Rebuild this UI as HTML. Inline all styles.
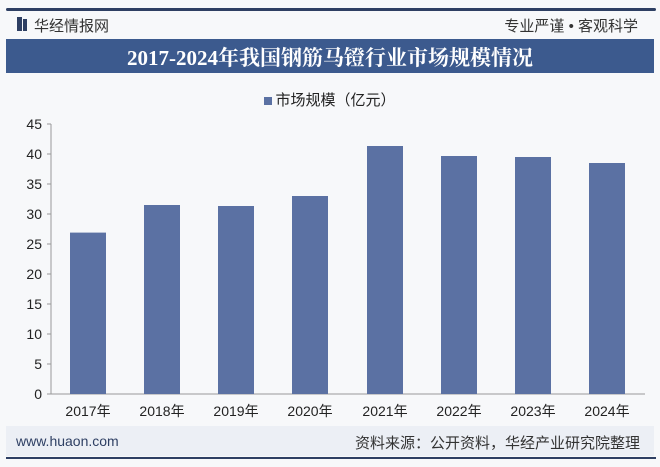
<!DOCTYPE html><html><head><meta charset="utf-8"><style>
body{margin:0;width:660px;height:467px;background:#f7f8fa;position:relative;overflow:hidden;font-family:"Liberation Sans","Noto Sans CJK SC",sans-serif}
.a{position:absolute}
</style></head><body>
<div class="a" style="left:6px;top:8px;width:650px;height:3px;background:#2e3f63;border-radius:2px"></div>
<div class="a" style="left:17px;top:17px;width:5px;height:14px;background:#2e3f63"></div>
<div class="a" style="left:23px;top:19px;width:4px;height:12px;background:#2e3f63"></div>
<div class="a" style="left:34px;top:15px;font-size:15px;color:#333">华经情报网</div>
<div class="a" style="right:22px;top:15px;font-size:15px;color:#333">专业严谨 • 客观科学</div>
<div class="a" style="left:6px;top:39px;width:648px;height:34px;background:#3c5a8e"></div>
<div class="a" style="left:0;width:660px;top:42px;text-align:center;font-size:21px;font-weight:bold;color:#fff;font-family:'Liberation Serif','Noto Serif CJK SC',serif">2017-2024年我国钢筋马镫行业市场规模情况</div>
<div class="a" style="left:0;width:660px;top:89px;text-align:center;font-size:15px;color:#222"><span style="display:inline-block;width:8px;height:8px;background:#5b71a3;margin-right:3px"></span>市场规模（亿元）</div>
<svg class="a" style="left:0;top:0" width="660" height="467">
<g font-family="Liberation Sans" font-size="14" fill="#222" text-anchor="end">
<text x="42" y="129">45</text><text x="42" y="159">40</text><text x="42" y="189">35</text><text x="42" y="219">30</text><text x="42" y="249">25</text><text x="42" y="279">20</text><text x="42" y="309">15</text><text x="42" y="339">10</text><text x="42" y="369">5</text><text x="42" y="399">0</text>
</g>
<g stroke="#999" stroke-width="1">
<line x1="51" y1="124" x2="51" y2="394"/><line x1="51" y1="394" x2="645" y2="394"/>
<line x1="47" y1="124" x2="51" y2="124"/><line x1="47" y1="154" x2="51" y2="154"/><line x1="47" y1="184" x2="51" y2="184"/><line x1="47" y1="214" x2="51" y2="214"/><line x1="47" y1="244" x2="51" y2="244"/><line x1="47" y1="274" x2="51" y2="274"/><line x1="47" y1="304" x2="51" y2="304"/><line x1="47" y1="334" x2="51" y2="334"/><line x1="47" y1="364" x2="51" y2="364"/><line x1="47" y1="394" x2="51" y2="394"/>
</g>
<g fill="#5b71a3">
<rect x="70" y="232.6" width="36" height="161.4"/>
<rect x="144" y="205" width="36" height="189"/>
<rect x="218" y="206" width="36" height="188"/>
<rect x="292" y="196" width="36" height="198"/>
<rect x="367" y="146" width="36" height="248"/>
<rect x="441" y="156" width="36" height="238"/>
<rect x="515" y="157" width="36" height="237"/>
<rect x="589" y="163" width="36" height="231"/>
</g>
<g font-family="Liberation Sans,Noto Sans CJK SC" font-size="14" fill="#222" text-anchor="middle">
<text x="88" y="416">2017年</text><text x="162" y="416">2018年</text><text x="236" y="416">2019年</text><text x="310" y="416">2020年</text><text x="385" y="416">2021年</text><text x="459" y="416">2022年</text><text x="533" y="416">2023年</text><text x="607" y="416">2024年</text>
</g>
</svg>
<div class="a" style="left:6px;top:426px;width:648px;height:30px;background:#eceff5"></div>
<div class="a" style="left:16px;top:433px;font-size:14px;color:#2e3f63">www.huaon.com</div>
<div class="a" style="right:20px;top:432px;font-size:15px;color:#333">资料来源：公开资料，华经产业研究院整理</div>
<div class="a" style="left:6px;top:457px;width:650px;height:2px;background:#2e3f63"></div>
</body></html>
